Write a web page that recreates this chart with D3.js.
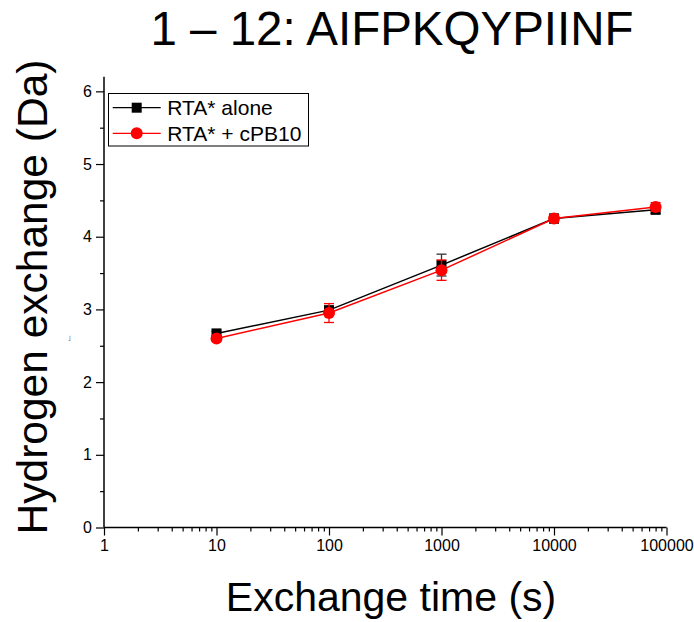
<!DOCTYPE html>
<html>
<head>
<meta charset="utf-8">
<script src="https://cdn.jsdelivr.net/npm/d3@7"></script>
<style>
  body { margin: 0; background: #fff; }
  svg { font-family: "Liberation Sans", Arial, sans-serif; }
</style>
</head>
<body>
<svg id="chart" width="694" height="622"></svg>
<script>
// exchange times (s)
let times = [10, 100, 1000, 10000, 80000];
// RTA* alone
let aloneVals = [2.67, 2.99, 3.61, 4.25, 4.37];
let aloneErr = [0.03, 0.05, 0.15, 0.06, 0.05];
// RTA* + cPB10
let cpbVals = [2.60, 2.95, 3.54, 4.25, 4.41];
let cpbErr = [0.03, 0.13, 0.14, 0.05, 0.06];
let xTicks = [1, 10, 100, 1000, 10000, 100000];
let yTicks = [0, 1, 2, 3, 4, 5, 6];

let svg = d3.select("#chart");
let plotLeft = 104, plotRight = 666.5, plotTop = 76.8, plotBottom = 527.5;

let x = d3.scaleLog().domain([1, 100000]).range([plotLeft, plotRight]);
let y = d3.scaleLinear().domain([0, 6.2]).range([plotBottom, plotTop]);

// minor ticks
let xMinor = [];
for (let d = 1; d < 100000; d *= 10) {
  for (let k = 2; k <= 9; k++) xMinor.push(d * k);
}
let yMinor = d3.range(0.5, 6.2, 1);

let xAxis = svg.append("g").attr("transform", "translate(0," + plotBottom + ")");
xAxis.call(d3.axisBottom(x).tickValues(xTicks).tickFormat(d3.format("d")).tickSize(8).tickPadding(4));
xAxis.append("g").call(d3.axisBottom(x).tickValues(xMinor).tickFormat("").tickSize(4))
  .select(".domain").remove();

let yAxis = svg.append("g").attr("transform", "translate(" + plotLeft + ",0)");
yAxis.call(d3.axisLeft(y).tickValues(yTicks).tickFormat(d3.format("d")).tickSize(8).tickPadding(4));
yAxis.append("g").call(d3.axisLeft(y).tickValues(yMinor).tickFormat("").tickSize(4))
  .select(".domain").remove();

svg.selectAll(".domain").attr("stroke", "#000").attr("stroke-width", 1.5);
svg.selectAll(".tick line").attr("stroke", "#000").attr("stroke-width", 1.2);
svg.selectAll(".tick text").attr("font-size", 16).attr("fill", "#000")
  .attr("font-family", "'Liberation Sans', Arial, sans-serif");
// no end caps on the axis lines
xAxis.select(".domain").attr("d", "M" + plotLeft + ",0H" + plotRight);
yAxis.select(".domain").attr("d", "M0," + plotBottom + "V" + plotTop);

function drawSeries(vals, errs, color, errColor, shape) {
  let pts = times.map((t, i) => ({t: t, v: vals[i], e: errs[i]}));
  let line = d3.line().x(d => x(d.t)).y(d => y(d.v));
  svg.append("path").datum(pts)
    .attr("d", line).attr("fill", "none")
    .attr("stroke", color).attr("stroke-width", 1.5);
  let g = svg.append("g");
  let eb = g.selectAll(".eb").data(pts).enter().append("g");
  eb.append("line")
    .attr("x1", d => x(d.t)).attr("x2", d => x(d.t))
    .attr("y1", d => y(d.v - d.e)).attr("y2", d => y(d.v + d.e))
    .attr("stroke", errColor).attr("stroke-width", 1.3);
  [-1, 1].forEach(s => {
    eb.append("line")
      .attr("x1", d => x(d.t) - 5).attr("x2", d => x(d.t) + 5)
      .attr("y1", d => y(d.v + s * d.e)).attr("y2", d => y(d.v + s * d.e))
      .attr("stroke", errColor).attr("stroke-width", 1.3);
  });
  if (shape === "square") {
    g.selectAll(".m").data(pts).enter().append("rect")
      .attr("x", d => x(d.t) - 5).attr("y", d => y(d.v) - 5)
      .attr("width", 10).attr("height", 10).attr("fill", color);
  } else {
    g.selectAll(".m").data(pts).enter().append("circle")
      .attr("cx", d => x(d.t)).attr("cy", d => y(d.v))
      .attr("r", 6).attr("fill", color);
  }
}

drawSeries(aloneVals, aloneErr, "#000", "#333", "square");
drawSeries(cpbVals, cpbErr, "#ff0000", "#ff0000", "circle");

// legend
let legend = svg.append("g");
legend.append("rect")
  .attr("x", 108.5).attr("y", 93.5).attr("width", 200).attr("height", 52.5)
  .attr("fill", "#fff").attr("stroke", "#000").attr("stroke-width", 1);
let items = [
  {label: "RTA* alone", color: "#000", shape: "square"},
  {label: "RTA* + cPB10", color: "#ff0000", shape: "circle"}
];
items.forEach((it, i) => {
  let cy = 107.7 + i * 25.6;
  legend.append("line").attr("x1", 112.7).attr("x2", 160.7)
    .attr("y1", cy).attr("y2", cy).attr("stroke", it.color).attr("stroke-width", 1.2);
  if (it.shape === "square") {
    legend.append("rect").attr("x", 131.7).attr("y", cy - 5).attr("width", 10).attr("height", 10).attr("fill", it.color);
  } else {
    legend.append("circle").attr("cx", 136.7).attr("cy", cy).attr("r", 6).attr("fill", it.color);
  }
  legend.append("text").attr("x", 167.3).attr("y", cy + 7.5)
    .attr("font-size", 21).attr("fill", "#000").text(it.label);
});

// title and axis labels
svg.append("text").attr("x", 392).attr("y", 45).attr("text-anchor", "middle")
  .attr("font-size", 47.5).attr("fill", "#000").text("1 \u2013 12: AIFPKQYPIINF");
svg.append("text").attr("x", 391).attr("y", 611).attr("text-anchor", "middle")
  .attr("font-size", 41).attr("fill", "#000").text("Exchange time (s)");
svg.append("text").attr("transform", "translate(47,297) rotate(-90)")
  .attr("text-anchor", "middle").attr("font-size", 42.5).attr("fill", "#000")
  .text("Hydrogen exchange (Da)");
svg.append("text").attr("x", 68).attr("y", 341).attr("font-size", 7).attr("fill", "#444").text("\u02E9");
</script>
</body>
</html>
